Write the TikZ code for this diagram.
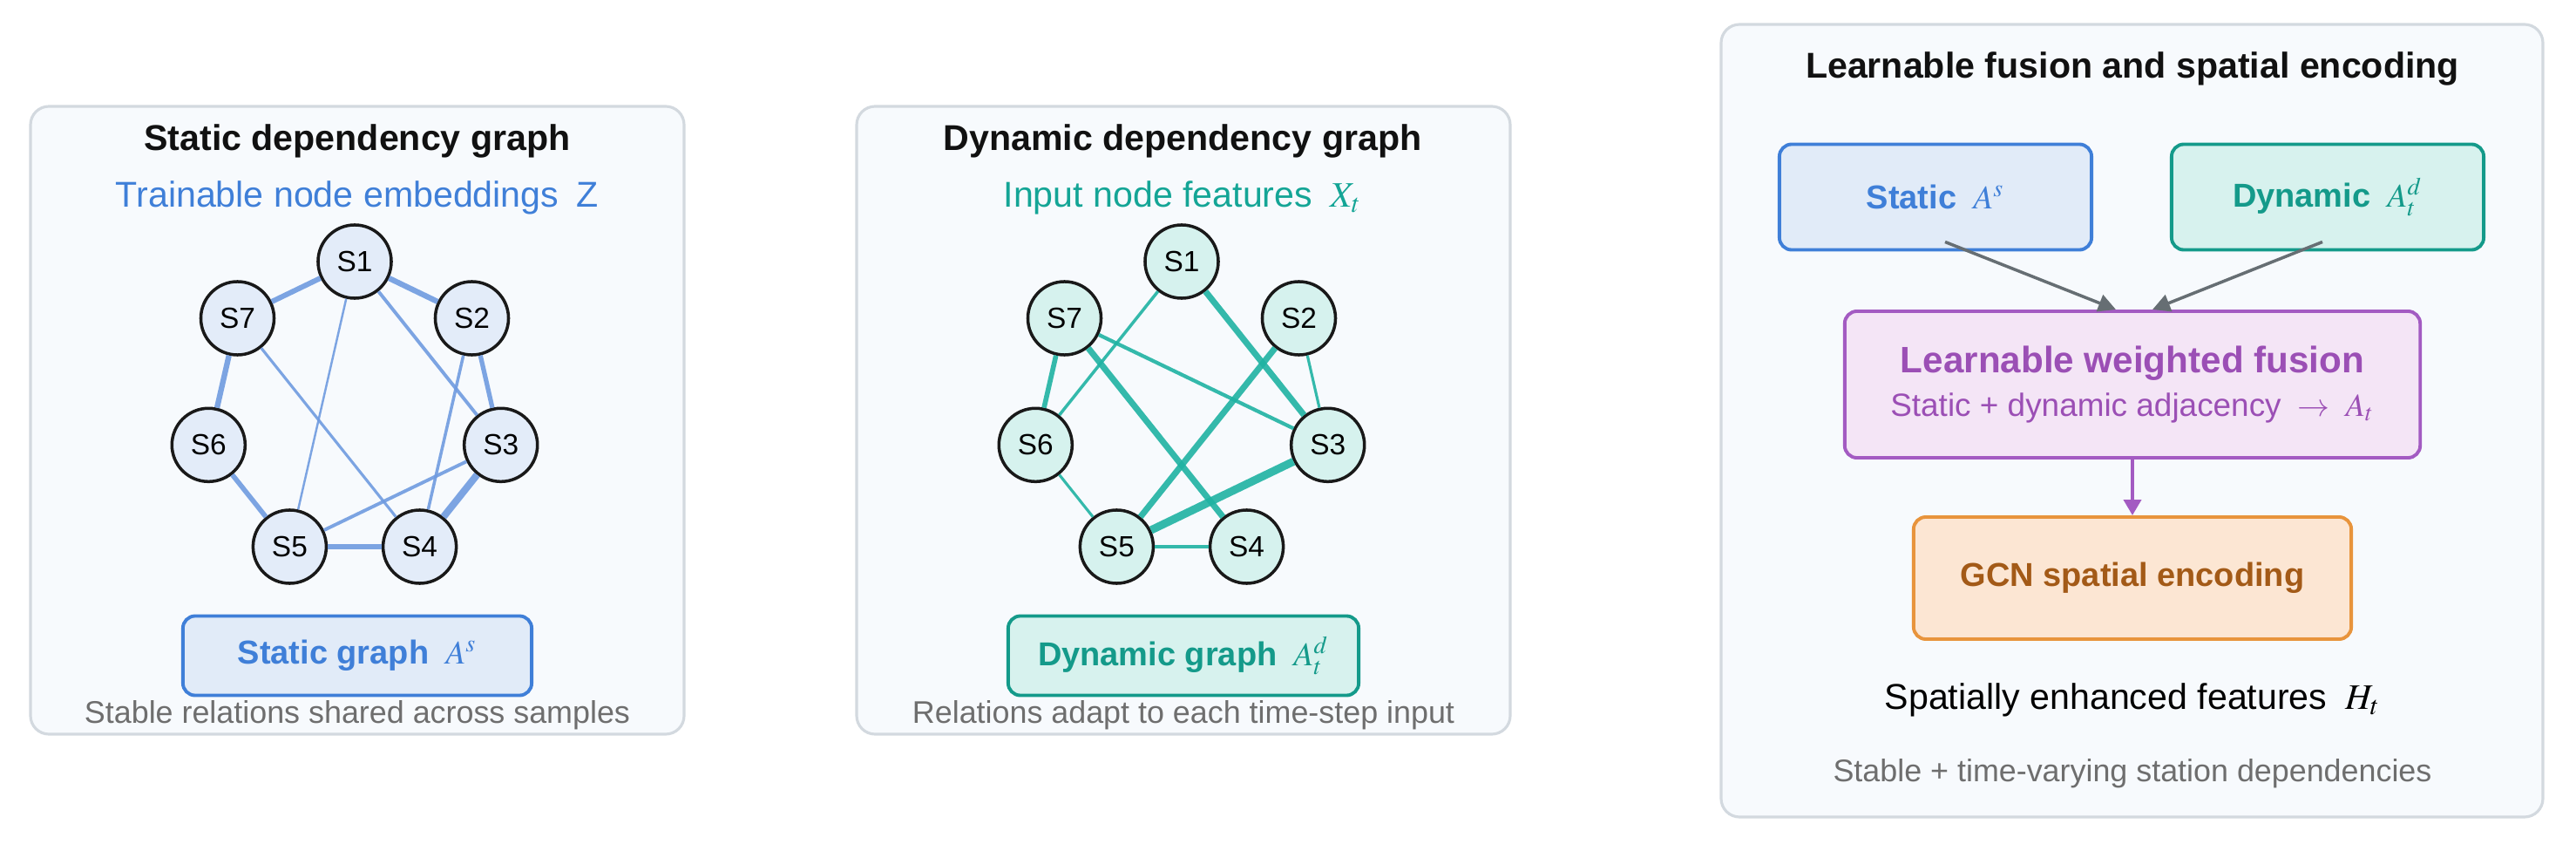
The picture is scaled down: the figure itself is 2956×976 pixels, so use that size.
\documentclass[tikz,border=0pt]{standalone}
\usepackage{mathptmx}
\usepackage{fontspec}
\setmainfont{Liberation Sans}
\usetikzlibrary{arrows.meta}
\definecolor{panelfill}{HTML}{F7FAFD}
\definecolor{panelline}{HTML}{D3D9DF}
\definecolor{titletext}{HTML}{111111}
\definecolor{notegray}{HTML}{6E6E6E}
\definecolor{stline}{HTML}{3F7FD8}
\definecolor{stfill}{HTML}{E1EBF8}
\definecolor{stnode}{HTML}{E3ECF9}
\definecolor{stedge}{HTML}{6F9BE0}
\definecolor{dyline}{HTML}{149A8A}
\definecolor{dytext}{HTML}{14A596}
\definecolor{dyfill}{HTML}{D7F2EE}
\definecolor{dynode}{HTML}{D6F2EE}
\definecolor{dyedge}{HTML}{1FB3A3}
\definecolor{fuseline}{HTML}{A35BC2}
\definecolor{fusefill}{HTML}{F4E5F6}
\definecolor{fusetext}{HTML}{9B4FB5}
\definecolor{gcnline}{HTML}{E8943C}
\definecolor{gcnfill}{HTML}{FCE6D3}
\definecolor{gcntext}{HTML}{A35A17}
\definecolor{arrowgray}{HTML}{666E73}

\begin{document}
\begin{tikzpicture}[x=0.01cm, y=-0.01cm,
    panel/.style={draw=panelline, fill=panelfill, line width=0.9pt, rounded corners=6pt},
    ttl/.style={font=\fontsize{11.7}{14}\selectfont\bfseries, text=titletext},
    sub/.style={font=\fontsize{11.7}{14}\selectfont},
    note/.style={font=\fontsize{10.2}{12}\selectfont, text=notegray},
    stn/.style={circle, draw=black!90, line width=1pt, minimum size=0.84cm, inner sep=0pt, font=\fontsize{9.5}{11}\selectfont},
    gbox/.style={rounded corners=4pt, line width=1.1pt, minimum height=0.91cm, font=\fontsize{10.8}{13}\selectfont\bfseries},
    sedge/.style={draw=stedge, draw opacity=0.9},
    dedge/.style={draw=dyedge, draw opacity=0.9},
    garrow/.style={draw=arrowgray, line width=1pt, -{Triangle[length=0.2cm,width=0.2cm]}},
    parrow/.style={draw=fuseline, line width=1.1pt, -{Triangle[length=0.18cm,width=0.2cm]}}]

  \useasboundingbox (0,0) rectangle (2956,976);

  % the three panels
  \draw[panel] (35,122) rectangle (785,842);
  \draw[panel] (983,122) rectangle (1733,842);
  \draw[panel] (1975,28) rectangle (2918,937);

  % static graph
  \node[ttl] (stitle) at (410,162) {Static dependency graph};
  \node[sub, text=stline] (ssub) at (410,227) {Trainable node embeddings\enspace Z};
  \begin{scope}[shift={(407,472)}]
    \foreach \n/\x/\y in {1/0/-172, 2/134.5/-107, 3/167.7/38.3, 4/74.6/155, 5/-74.6/155, 6/-167.7/38.3, 7/-134.5/-107}
      \node[stn, fill=stnode] (a\n) at (\x,\y) {S\n};
  \end{scope}
  \foreach \u/\v/\w in {1/7/1.7, 1/2/1.8, 1/5/0.7, 1/3/1.1, 7/6/1.8, 7/4/0.9, 2/3/1.5, 2/4/1.0, 6/5/1.6, 3/5/1.1, 3/4/2.3, 5/4/1.9}
    \draw[sedge, line width=\w pt] (a\u) -- (a\v);
  \node[gbox, draw=stline, fill=stfill, text=stline, minimum width=4cm] (sgraph) at (410,752) {Static graph\enspace$A^{s}$};
  \node[note] (snote) at (410,820) {Stable relations shared across samples};

  % dynamic graph
  \node[ttl] (dtitle) at (1357,162) {Dynamic dependency graph};
  \node[sub, text=dytext] (dsub) at (1357,227) {Input node features\enspace$X_{t}$};
  \begin{scope}[shift={(1356,472)}]
    \foreach \n/\x/\y in {1/0/-172, 2/134.5/-107, 3/167.7/38.3, 4/74.6/155, 5/-74.6/155, 6/-167.7/38.3, 7/-134.5/-107}
      \node[stn, fill=dynode] (b\n) at (\x,\y) {S\n};
  \end{scope}
  \foreach \u/\v/\w in {1/6/1.0, 1/3/2.0, 7/6/1.6, 7/3/1.2, 7/4/2.0, 2/5/2.0, 2/3/0.9, 6/5/0.9, 3/5/2.6, 5/4/1.3}
    \draw[dedge, line width=\w pt] (b\u) -- (b\v);
  \node[gbox, draw=dyline, fill=dyfill, text=dyline, minimum width=4.02cm] (dgraph) at (1358,752) {Dynamic graph\enspace$A^{d}_{t}$};
  \node[note] (dnote) at (1358,820) {Relations adapt to each time-step input};

  % fusion and encoding
  \node[ttl] (ftitle) at (2447,79) {Learnable fusion and spatial encoding};
  \node[gbox, draw=stline, fill=stfill, text=stline, minimum width=3.58cm, minimum height=1.21cm] (pst) at (2221,226) {Static\enspace$A^{s}$};
  \node[gbox, draw=dyline, fill=dyfill, text=dyline, minimum width=3.58cm, minimum height=1.21cm] (pdy) at (2671,226) {Dynamic\enspace$A^{d}_{t}$};
  \node[gbox, draw=fuseline, fill=fusefill, text=fusetext, minimum width=6.6cm, minimum height=1.68cm, align=center] (fuse) at (2447,441)
    {\fontsize{12}{14}\selectfont\bfseries Learnable weighted fusion\\[1pt]
     \fontsize{10.5}{12}\selectfont\mdseries Static + dynamic adjacency\enspace$\rightarrow$\enspace$A_{t}$};
  \node[gbox, draw=gcnline, fill=gcnfill, text=gcntext, minimum width=5.02cm, minimum height=1.4cm] (gcn) at (2447,663) {GCN spatial encoding};
  \node[sub] (hout) at (2447,803) {Spatially enhanced features\enspace$H_{t}$};
  \node[note] (fnote) at (2447,887) {Stable + time-varying station dependencies};

  \draw[garrow] ([xshift=0.11cm, yshift=0.11cm]pst.south) -- ([xshift=-0.19cm]fuse.north);
  \draw[garrow] ([xshift=-0.06cm, yshift=0.11cm]pdy.south) -- ([xshift=0.23cm]fuse.north);
  \draw[parrow] (fuse.south) -- (gcn.north);
\end{tikzpicture}
\end{document}
